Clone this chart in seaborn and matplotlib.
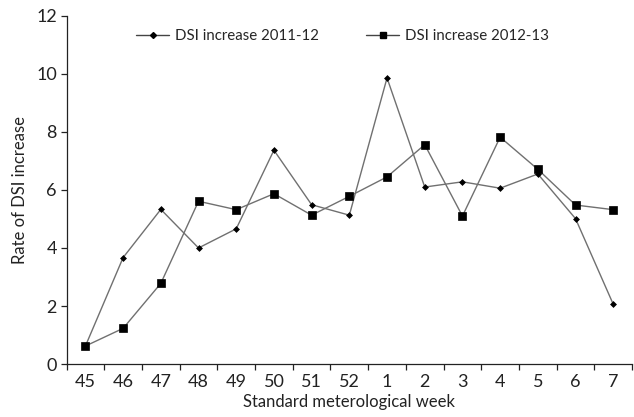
import numpy as np
import pandas as pd
import matplotlib
matplotlib.use("Agg")
import matplotlib.pyplot as plt
from matplotlib.ticker import FixedLocator
from matplotlib.lines import Line2D
import seaborn as sns

weeks = ["45", "46", "47", "48", "49", "50", "51", "52", "1", "2", "3", "4", "5", "6", "7"]
dsi_2011_12 = [0.62, 3.67, 5.33, 4.00, 4.66, 7.37, 5.49, 5.13, 9.86, 6.10, 6.28, 6.06, 6.55, 5.01, 2.06]
dsi_2012_13 = [0.62, 1.23, 2.78, 5.61, 5.32, 5.87, 5.13, 5.78, 6.45, 7.56, 5.10, 7.82, 6.71, 5.48, 5.32]
series_names = ["DSI increase 2011-12", "DSI increase 2012-13"]

sns.set_theme(style="ticks")
plt.rcParams["font.family"] = ["Lato", "DejaVu Sans"]

pos = np.arange(len(weeks))
df = pd.concat([
    pd.DataFrame({"pos": pos, "rate": dsi_2011_12, "series": series_names[0]}),
    pd.DataFrame({"pos": pos, "rate": dsi_2012_13, "series": series_names[1]}),
])

fig = plt.figure(figsize=(6.34, 4.17), dpi=100)
ax = fig.add_axes([0.105, 0.127, 0.892, 0.835])

line_col = "#707070"
sns.lineplot(data=df, x="pos", y="rate", hue="series", style="series",
             palette=[line_col, line_col], markers=["D", "s"], dashes=False,
             linewidth=1.0, ax=ax, legend=False)
# small black diamonds for 2011-12, black squares for 2012-13
for line, ms in zip(ax.get_lines(), [3.0, 5.2]):
    line.set_markersize(ms)
    line.set_markerfacecolor("black")
    line.set_markeredgecolor("black")
    line.set_markeredgewidth(0.5)

ax.set_xlim(-0.5, len(weeks) - 0.5)
ax.set_ylim(0, 12)
ax.set_yticks(np.arange(0, 13, 2))
ax.set_xticks(pos)
ax.set_xticklabels(weeks)
ax.xaxis.set_minor_locator(FixedLocator(np.arange(-0.5, len(weeks), 1.0)))
ax.tick_params(axis="x", which="major", length=0, pad=7, labelsize=13, colors="#222222")
ax.tick_params(axis="x", which="minor", length=4, width=0.9, color="#222222")
ax.tick_params(axis="y", length=4, width=0.9, labelsize=13, colors="#222222", pad=3)
ax.set_xlabel("Standard meterological week", fontsize=12, color="#222222", labelpad=3)
ax.set_ylabel("Rate of DSI increase", fontsize=12, color="#222222", labelpad=6)
for s in ["left", "bottom"]:
    ax.spines[s].set_color("#222222")
    ax.spines[s].set_linewidth(0.9)
sns.despine(ax=ax)

handles = [
    Line2D([], [], color="#444444", lw=1.0, marker="D", ms=3, mfc="black", mec="black"),
    Line2D([], [], color="#444444", lw=1.0, marker="s", ms=4.5, mfc="black", mec="black"),
]
ax.legend(handles, series_names, ncol=2, frameon=False, loc="upper center",
          bbox_to_anchor=(0.488, 1.0), fontsize=10.8, columnspacing=3.2,
          handlelength=2.2, handletextpad=0.35)

fig.savefig("out.png", dpi=100)
